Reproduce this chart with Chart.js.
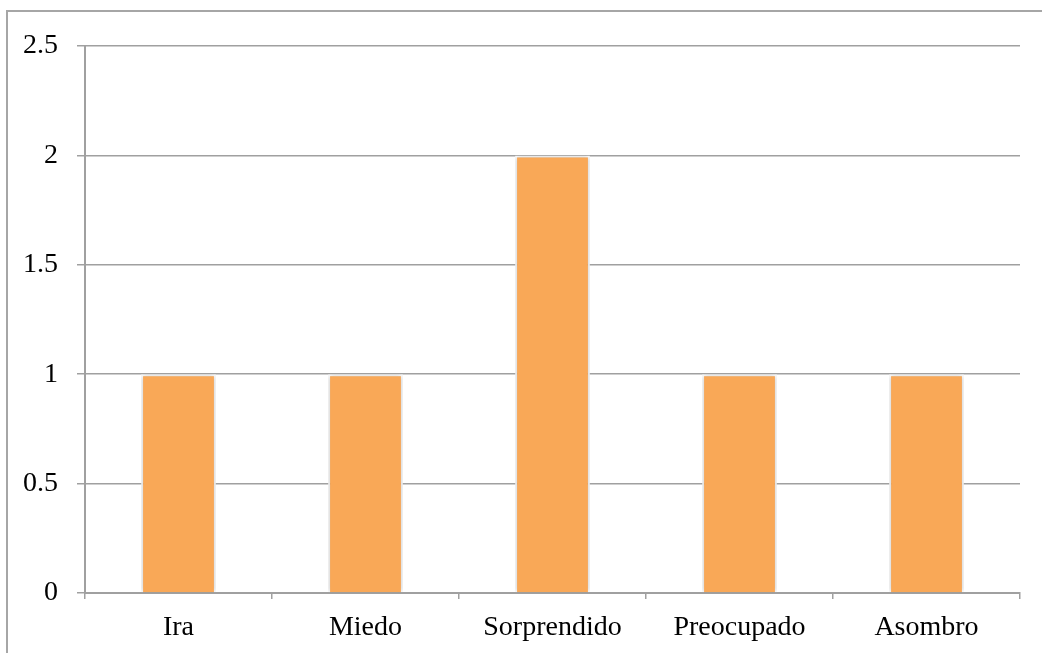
<!DOCTYPE html>
<html>
<head>
<meta charset="utf-8">
<script src="https://cdn.jsdelivr.net/npm/chart.js@4"></script>
<style>
  html, body { margin: 0; padding: 0; background: #fff; overflow: hidden; }
  #frame { position: absolute; left: 6px; top: 10px; width: 2000px; height: 2000px; border: 2px solid #a6a6a6; }
  #wrap { position: absolute; left: 0; top: 0; width: 1042px; height: 653px; }
</style>
</head>
<body>
<div id="frame"></div>
<div id="wrap"><canvas id="chart" width="1042" height="653"></canvas></div>
<script>
 const categories = ["Ira", "Miedo", "Sorprendido", "Preocupado", "Asombro"];
 const values = [1, 1, 2, 1, 1];
 const yTicks = [0, 0.5, 1, 1.5, 2, 2.5];

 const axisColor = "#a0a0a0";
 const fontSpec = { family: "'Liberation Serif', serif", size: 28 };

 // soft shadow round each bar, like the office chart
 const barShadow = {
     id: 'barShadow',
     beforeDatasetsDraw(chart) {
         const ctx = chart.ctx;
         ctx.save();
         ctx.shadowColor = 'rgba(0,0,0,0.25)';
         ctx.shadowBlur = 5;
         ctx.shadowOffsetX = 0;
         ctx.shadowOffsetY = 0;
     },
     afterDatasetsDraw(chart) {
         chart.ctx.restore();
     }
 };

 const myChart = new Chart(document.getElementById('chart'), {
     type: 'bar',
     data: {
         labels: categories,
         datasets: [{
             data: values,
             backgroundColor: "#f9a857",
             borderColor: "#ffffff",
             borderWidth: 2,
             categoryPercentage: 0.8,
             barPercentage: 0.5
         }]
     },
     plugins: [barShadow],
     options: {
         responsive: false,
         animation: false,
         layout: { padding: { left: 0, right: 22, top: 46, bottom: 0 } },
         plugins: {
             legend: { display: false },
             tooltip: { enabled: false }
         },
         scales: {
             x: {
                 afterFit(scale) { scale.height = 60; },
                 grid: {
                     offset: true,
                     drawOnChartArea: false,
                     color: axisColor,
                     lineWidth: 1.5,
                     tickLength: 6
                 },
                 border: { color: axisColor, width: 2 },
                 ticks: { color: "#000", font: fontSpec, padding: 12 }
             },
             y: {
                 min: 0,
                 max: 2.5,
                 afterFit(scale) { scale.width = 85; },
                 afterBuildTicks(scale) {
                     scale.ticks = yTicks.map(v => ({ value: v }));
                 },
                 grid: {
                     color: axisColor,
                     lineWidth: 1.5,
                     tickLength: 8
                 },
                 border: { color: axisColor, width: 2 },
                 ticks: {
                     color: "#000",
                     font: fontSpec,
                     padding: 19,
                     callback: v => String(v)
                 }
             }
         }
     }
 });
</script>
</body>
</html>
